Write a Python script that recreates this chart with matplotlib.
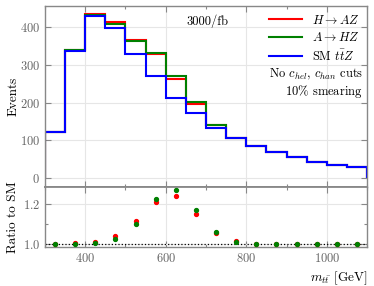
import matplotlib
matplotlib.use("Agg")
import matplotlib.pyplot as plt
import numpy as np
from matplotlib.ticker import MultipleLocator

plt.rcParams['font.family'] = 'serif'
plt.rcParams['font.serif'] = ['cmr10', 'DejaVu Serif']
plt.rcParams['mathtext.fontset'] = 'cm'
plt.rcParams['axes.formatter.use_mathtext'] = True
plt.rcParams['axes.unicode_minus'] = False

bin_edges = [300, 350, 400, 450, 500, 550, 600, 650, 700, 750, 800, 850, 900, 950, 1000, 1050, 1100]
sm_ttz = [123, 337, 428, 397, 328, 271, 213, 172, 133, 106, 86, 69, 56, 44, 36, 29]
ratio_H_AZ = [1.003, 1.006, 1.013, 1.039, 1.112, 1.208, 1.237, 1.148, 1.055, 1.015, 1.003, 1.0, 1.0, 1.0, 1.0, 1.0]
ratio_A_HZ = [1.002, 1.003, 1.006, 1.028, 1.102, 1.221, 1.268, 1.169, 1.060, 1.012, 1.002, 1.0, 1.0, 1.0, 1.0, 1.0]

edges = np.array(bin_edges, dtype=float)
centers = 0.5 * (edges[:-1] + edges[1:])
sm = np.array(sm_ttz, dtype=float)
h_az = sm * np.array(ratio_H_AZ)
a_hz = sm * np.array(ratio_A_HZ)

spine_c = '#888888'
tick_c = '#666666'

fig = plt.figure(figsize=(3.74, 2.86), dpi=100)
ax1 = fig.add_axes([0.1203, 0.346, 0.8610, 0.633])
ax2 = fig.add_axes([0.1203, 0.135, 0.8610, 0.211], sharex=ax1)

ax1.stairs(h_az, edges, baseline=0, color='#ff0000', lw=1.5, label=r'$H \to AZ$')
ax1.stairs(a_hz, edges, baseline=0, color='#008000', lw=1.5, label=r'$A \to HZ$')
ax1.stairs(sm, edges, baseline=0, color='#0000ff', lw=1.5, label=r'SM $t\bar{t}Z$')

ax1.set_xlim(300, 1100)
ax1.set_ylim(-23, 455)
ax1.set_yticks([0, 100, 200, 300, 400])
ax1.set_ylabel('Events', fontsize=9.5)

leg = ax1.legend(loc='upper right', frameon=False, fontsize=9, handlelength=2.6,
                 borderaxespad=0.2, labelspacing=0.35, handletextpad=0.8)

ax1.text(0.505, 0.955, '3000/fb', transform=ax1.transAxes, ha='center', va='top', fontsize=9)
ax1.text(0.99, 0.62, r'No $c_{hel}$, $c_{han}$ cuts', transform=ax1.transAxes,
         ha='right', va='center', fontsize=9)
ax1.text(0.985, 0.53, r'10$\%$ smearing', transform=ax1.transAxes,
         ha='right', va='center', fontsize=9)

ax2.axhline(1.0, color='black', ls=':', lw=0.9, zorder=1)
ax2.plot(centers, ratio_H_AZ, 'o', color='#ff0000', ms=2.8, zorder=3)
ax2.plot(centers, ratio_A_HZ, 'o', color='#008000', ms=2.8, zorder=4)
ax2.set_ylim(0.985, 1.281)
ax2.set_yticks([1.0, 1.2])
ax2.yaxis.set_minor_locator(MultipleLocator(0.1))
ax2.set_ylabel('Ratio to SM', fontsize=9.5)
ax2.set_xlabel(r'$m_{t\bar{t}}$ [GeV]', loc='right', fontsize=9.5, labelpad=3)

ax2.xaxis.set_major_locator(MultipleLocator(200))
ax2.xaxis.set_minor_locator(MultipleLocator(100))

for ax in (ax1, ax2):
    ax.grid(True, which='major', color='#e6e6e6', lw=0.8, zorder=0)
    ax.set_axisbelow(True)
    ax.tick_params(which='both', direction='in', top=True, right=True,
                   color=spine_c, labelcolor=tick_c, labelsize=9)
    ax.tick_params(which='major', length=4, width=0.8)
    ax.tick_params(which='minor', length=2.5, width=0.8)
    for s in ax.spines.values():
        s.set_color(spine_c)
        s.set_linewidth(1.0)

ax1.tick_params(labelbottom=False)
ax1.spines['bottom'].set_linewidth(1.3)
ax2.spines['top'].set_linewidth(1.3)

for ax in (ax1, ax2):
    ax.yaxis.set_label_coords(-0.08, 0.5)

fig.savefig('out.png', dpi=100)
